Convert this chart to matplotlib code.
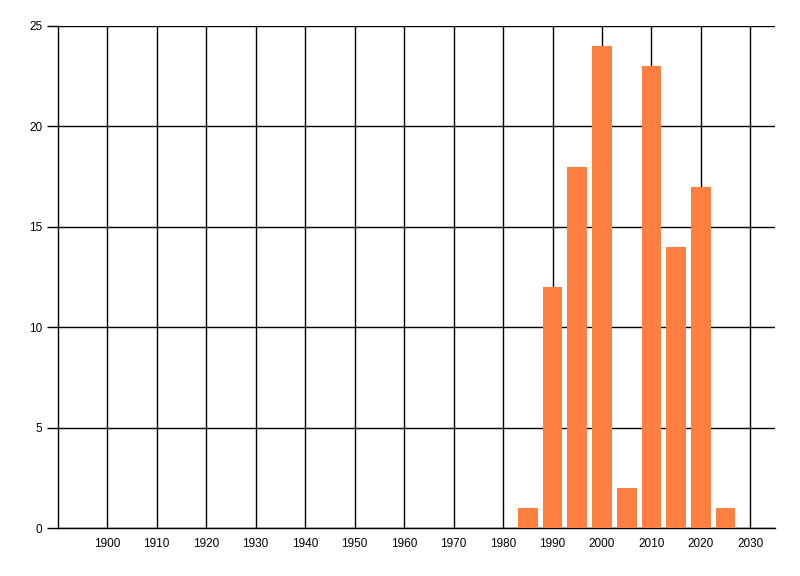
import numpy as np
import matplotlib.pyplot as plt

years = [1985, 1990, 1995, 2000, 2005, 2010, 2015, 2020, 2025]
counts = [1, 12, 18, 24, 2, 23, 14, 17, 1]
x_ticks = list(range(1900, 2031, 10))
y_ticks = [0, 5, 10, 15, 20, 25]

plt.rcParams['font.family'] = ['Liberation Sans', 'DejaVu Sans']

fig = plt.figure(figsize=(8, 5.76), dpi=100)
ax = fig.add_axes([0.0721, 0.0833, 0.969 - 0.0721, 0.955 - 0.0833])

ax.bar(years, counts, width=3.95, color='#ff7f41', zorder=3)

ax.set_xlim(1890, 2035)
ax.set_ylim(0, 25)
ax.set_xticks(x_ticks)
ax.set_yticks(y_ticks)
ax.grid(True, color='black', linewidth=1.0, zorder=1)
ax.set_axisbelow(True)

for side in ['top', 'right']:
    ax.spines[side].set_visible(False)
for side in ['left', 'bottom']:
    ax.spines[side].set_linewidth(1.0)
    ax.spines[side].set_color('black')

ax.tick_params(axis='x', length=0, pad=7, labelsize=8.5)
ax.tick_params(axis='y', length=8, width=1.0, pad=3, labelsize=8.5)

fig.savefig('out.png', dpi=100)
